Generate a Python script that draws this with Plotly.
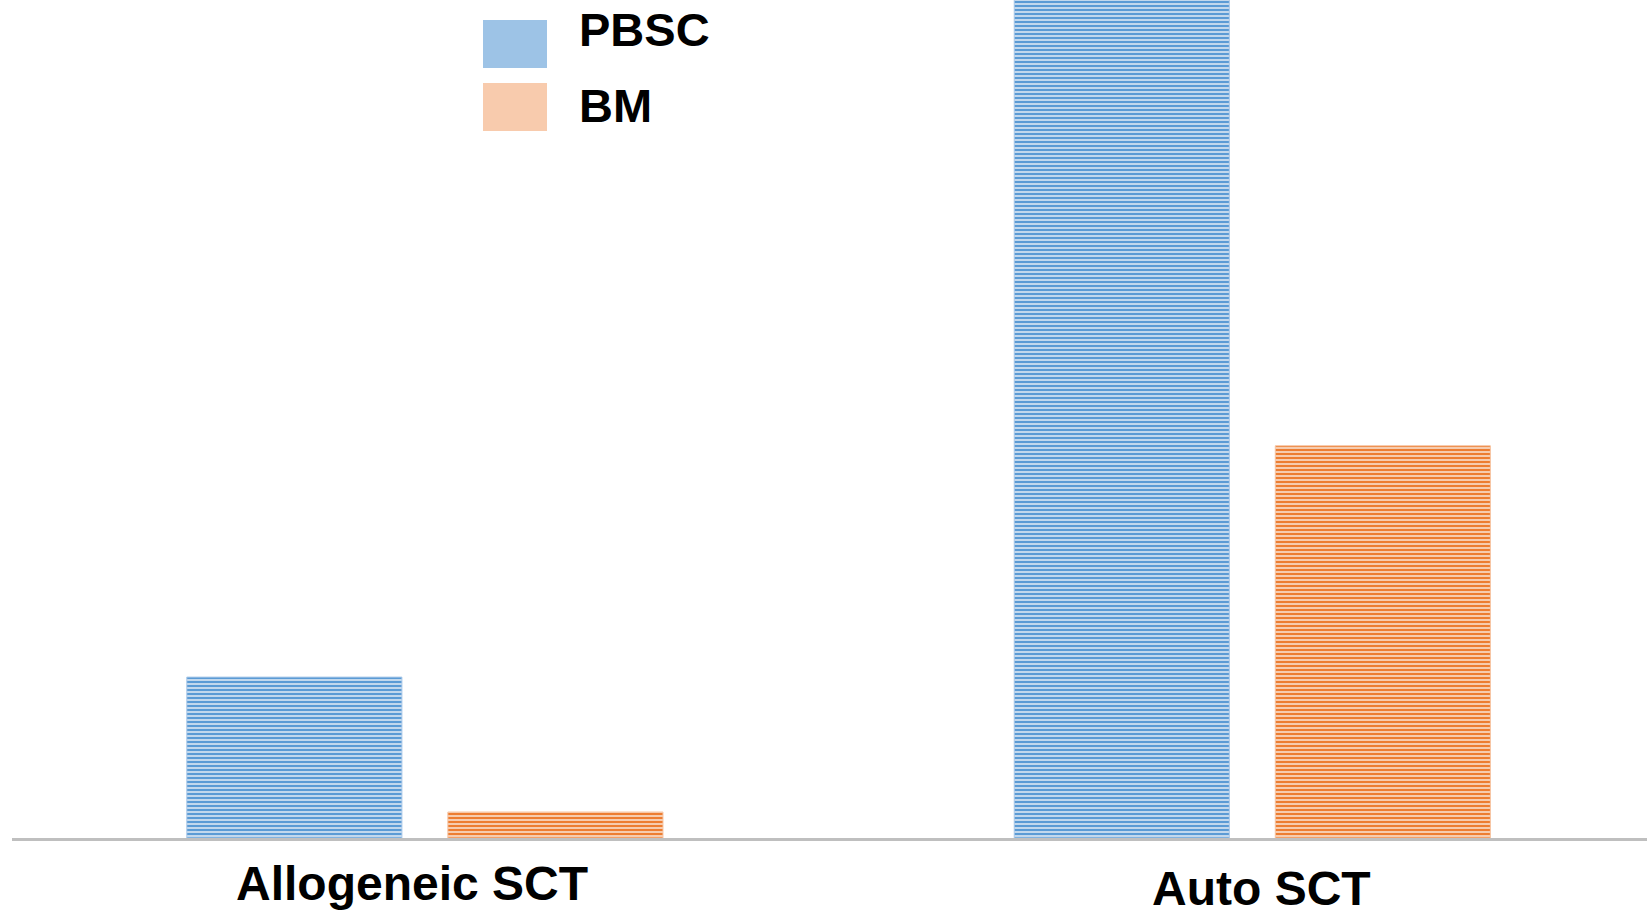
import plotly.graph_objects as go

# Data
categories = ["Allogeneic SCT", "Auto SCT"]
pbsc_values = [19.2, 105.0]
bm_values = [3.1, 46.8]
series_names = ["PBSC", "BM"]

W, H = 1647, 912
ML, MR, MT, MB = 12, 0, 0, 74
PW, PH = W - ML - MR, H - MT - MB

FONT = "Liberation Sans, Arial, sans-serif"

BLUE = "#5b9bd5"
BLUE_LIGHT = "#dce8f4"
BLUE_KEY = "#9dc3e6"
ORANGE = "#ed7d31"
ORANGE_LIGHT = "#f9e0cf"
ORANGE_KEY = "#f8cbad"


def px_x(px):
    return (px - ML) / PW


def px_y(py):
    return (MT + PH - py) / PH


fig = go.Figure()
fig.add_trace(go.Bar(
    name=series_names[0], x=categories, y=pbsc_values,
    marker=dict(
        color=BLUE,
        line=dict(color="#a9c8e8", width=1),
        pattern=dict(shape="-", size=4, solidity=0.6,
                     fgcolor=BLUE, bgcolor=BLUE_LIGHT, fillmode="replace"),
    ),
    showlegend=False,
))
fig.add_trace(go.Bar(
    name=series_names[1], x=categories, y=bm_values,
    marker=dict(
        color=ORANGE,
        line=dict(color="#f6c3a0", width=1),
        pattern=dict(shape="-", size=4, solidity=0.6,
                     fgcolor=ORANGE, bgcolor=ORANGE_LIGHT, fillmode="replace"),
    ),
    showlegend=False,
))

# Key: colour swatches with bold labels
shapes = []
annotations = []
for name, col, top, bottom, cy in [
    (series_names[0], BLUE_KEY, 20, 68, 30),
    (series_names[1], ORANGE_KEY, 83, 131, 105),
]:
    shapes.append(dict(type="rect", xref="paper", yref="paper",
                       x0=px_x(483), x1=px_x(547), y0=px_y(bottom), y1=px_y(top),
                       fillcolor=col, line=dict(width=0), layer="above"))
    annotations.append(dict(text=f"<b>{name}</b>", xref="paper", yref="paper",
                            x=px_x(577), y=px_y(cy), xanchor="left", yanchor="middle",
                            showarrow=False, font=dict(family=FONT, size=47, color="#000000")))

# Category labels
for cat, xs, cy in [(categories[0], -13, 883), (categories[1], 9, 888)]:
    annotations.append(dict(text=f"<b>{cat}</b>", x=cat, xref="x", yref="paper",
                            y=px_y(cy), xanchor="center", yanchor="middle", xshift=xs,
                            showarrow=False,
                            font=dict(family=FONT, size=48, color="#000000")))

fig.update_layout(
    width=W, height=H,
    margin=dict(l=ML, r=MR, t=MT, b=MB, pad=0),
    paper_bgcolor="#ffffff", plot_bgcolor="#ffffff",
    barmode="group", bargap=0.369, bargroupgap=0.176,
    shapes=shapes, annotations=annotations,
    xaxis=dict(range=[-0.499, 1.477], showticklabels=False, ticks="",
               showgrid=False, zeroline=False,
               showline=True, linecolor="#bfbfbf", linewidth=3),
    yaxis=dict(range=[0, 100], visible=False, showgrid=False, zeroline=False),
)

fig.write_html("out.html")
